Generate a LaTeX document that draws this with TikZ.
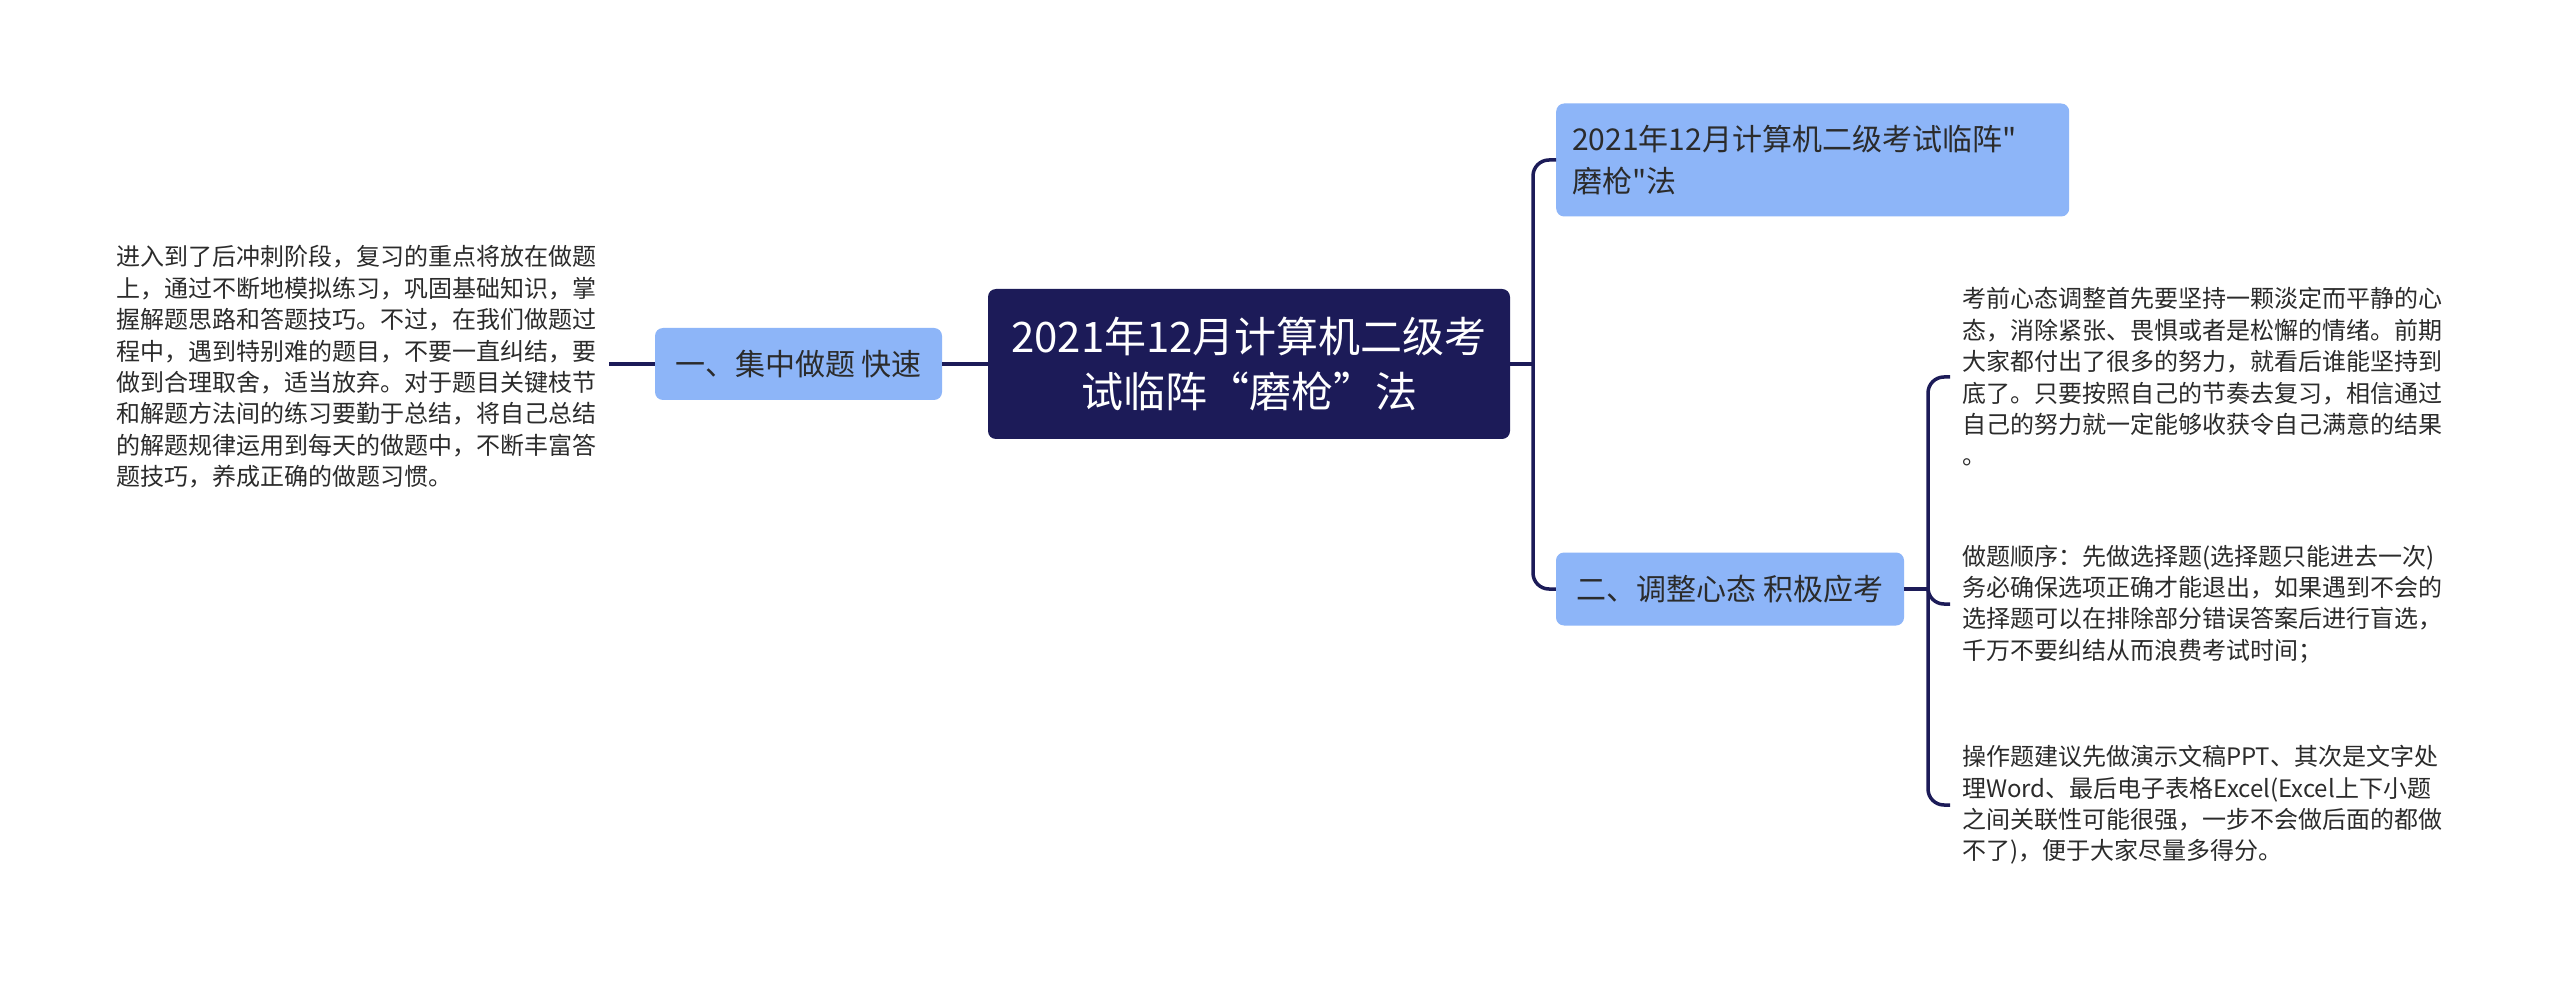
\documentclass[tikz,border=0pt]{standalone}
\usepackage{fontspec}
\setmainfont{Noto Sans CJK SC}[Ligatures=TeXOff]
\definecolor{navy}{HTML}{1C1B58}
\definecolor{lblue}{HTML}{8DB5F8}
\definecolor{txt}{HTML}{2B2B2B}
\begin{document}
\begin{tikzpicture}[x=1pt,y=-1pt]
\tikzset{
 box/.style={rounded corners=8pt, fill=lblue, text=txt, font=\fontsize{30}{42}\selectfont, inner sep=0pt},
 rootbox/.style={rounded corners=8pt, fill=navy, text=white, align=center, font=\fontsize{42}{55}\selectfont, inner sep=0pt},
 para/.style={align=left, text=txt, font=\fontsize{24}{31.4}\selectfont, inner sep=0pt},
 conn/.style={draw=navy, line width=3.5pt, rounded corners=16pt},
}
\useasboundingbox[fill=white] (0,0) rectangle (2560,981);
\node[rootbox, minimum width=522pt, minimum height=150pt] (root) at (1249,364) {2021年12月计算机二级考\\试临阵“磨枪”法};
\node[box, minimum width=287pt, minimum height=72pt] (n1) at (798.5,364) {一、集中做题 快速};
\node[box, text width=481pt, inner xsep=16pt, minimum height=113pt, align=left, anchor=west] (n2) at (1556,160) {2021年12月计算机二级考试临阵"\\磨枪"法};
\node[box, minimum width=348pt, minimum height=73pt] (n3) at (1730,589) {二、调整心态 积极应考};
\node[para, anchor=west] (p0) at (116,367) {进入到了后冲刺阶段，复习的重点将放在做题\\上，通过不断地模拟练习，巩固基础知识，掌\\握解题思路和答题技巧。不过，在我们做题过\\程中，遇到特别难的题目，不要一直纠结，要\\做到合理取舍，适当放弃。对于题目关键枝节\\和解题方法间的练习要勤于总结，将自己总结\\的解题规律运用到每天的做题中，不断丰富答\\题技巧，养成正确的做题习惯。};
\node[para, anchor=west] (p1) at (1962,377) {考前心态调整首先要坚持一颗淡定而平静的心\\态，消除紧张、畏惧或者是松懈的情绪。前期\\大家都付出了很多的努力，就看后谁能坚持到\\底了。只要按照自己的节奏去复习，相信通过\\自己的努力就一定能够收获令自己满意的结果\\。};
\node[para, anchor=west] (p2) at (1962,604) {做题顺序：先做选择题(选择题只能进去一次)\\务必确保选项正确才能退出，如果遇到不会的\\选择题可以在排除部分错误答案后进行盲选，\\千万不要纠结从而浪费考试时间；};
\node[para, anchor=west] (p3) at (1962,805) {操作题建议先做演示文稿PPT、其次是文字处\\理Word、最后电子表格Excel(Excel上下小题\\之间关联性可能很强，一步不会做后面的都做\\不了)，便于大家尽量多得分。};
\coordinate (a0) at (609,364);
\coordinate (s1) at (1533,364);
\coordinate (s2) at (1928,589);
\coordinate (e1) at (1950,377);
\coordinate (e2) at (1950,604);
\coordinate (e3) at (1950,805);
\draw[conn] (a0) -- (n1.west);
\draw[conn] (n1.east) -- (root.west);
\draw[conn] (root.east) -- (s1);
\draw[conn] (s1) |- (n2.west);
\draw[conn] (s1) |- (n3.west);
\draw[conn] (n3.east) -- (s2);
\draw[conn] (s2) |- (e1);
\draw[conn] (s2) |- (e2);
\draw[conn] (s2) |- (e3);
\end{tikzpicture}
\end{document}
